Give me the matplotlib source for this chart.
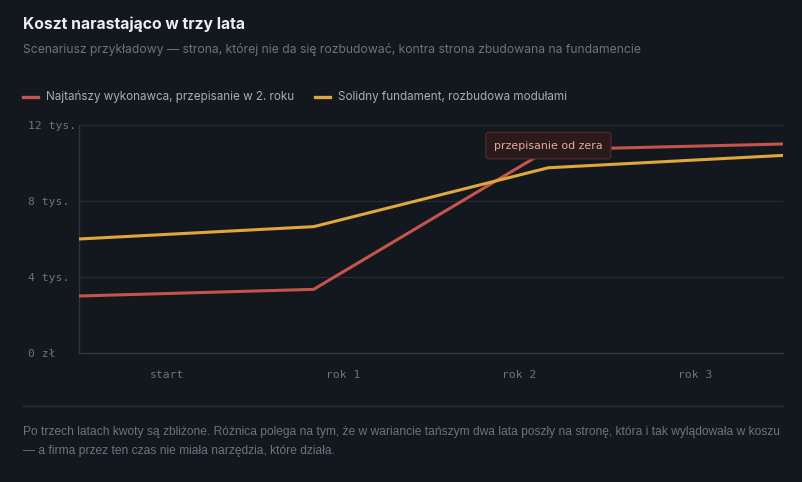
import matplotlib
matplotlib.use("Agg")
import matplotlib.pyplot as plt

# --- data -------------------------------------------------------------------
steps = [0, 1, 2, 3]
tick_labels = ["start", "rok 1", "rok 2", "rok 3"]
cheap = [3000, 3350, 10700, 11000]      # Najtańszy wykonawca
solid = [6000, 6650, 9750, 10400]       # Solidny fundament
y_ticks = [0, 4000, 8000, 12000]
y_labels = ["0 zł", "4 tys.", "8 tys.", "12 tys."]

BG = "#13171e"
RED = "#c4554d"
YEL = "#e0a83c"
GRID = "#262b33"
MUTED = "#6c737d"

fig = plt.figure(figsize=(8.03, 4.82), dpi=100, facecolor=BG)
W, H = 803, 482

def fx(px):
    return px / W

def fy(py):
    return 1 - py / H

ax = fig.add_axes([fx(79), fy(353), fx(783) - fx(79), fy(125) - fy(353)])
ax.set_facecolor(BG)

ax.plot(steps, cheap, color=RED, lw=2.2, solid_capstyle="butt", zorder=3)
ax.plot(steps, solid, color=YEL, lw=2.2, solid_capstyle="butt", zorder=3)

ax.set_xlim(0, 3)
ax.set_ylim(0, 12000)
ax.set_yticks(y_ticks)
ax.set_yticklabels(y_labels, family="DejaVu Sans Mono", fontsize=8.2, color=MUTED)
for lab in ax.get_yticklabels():
    lab.set_horizontalalignment("left")
ax.tick_params(axis="y", length=0, pad=36.5)   # pad in points -> labels start at x=28px

# category bands: labels sit at the middle of each quarter
n = len(tick_labels)
ax.set_xticks([(i + 0.5) * 3 / n for i in range(n)])
ax.set_xticklabels(tick_labels, family="DejaVu Sans Mono", fontsize=8.2, color=MUTED)
ax.tick_params(axis="x", length=0, pad=12)

ax.grid(axis="y", color=GRID, lw=1)
ax.set_axisbelow(True)
for s in ["top", "right"]:
    ax.spines[s].set_visible(False)
for s in ["left", "bottom"]:
    ax.spines[s].set_color("#2e343d")
    ax.spines[s].set_linewidth(1)

ax.annotate("przepisanie od zera", (steps[2], cheap[2]), xytext=(0, 3),
            textcoords="offset points", ha="center", va="center",
            fontsize=7.9, color="#e2aaa3", zorder=5,
            bbox=dict(boxstyle="round,pad=0.75,rounding_size=0.25",
                      fc="#2b1a1c", ec="#4b2b2d", lw=0.9))

# --- texts ------------------------------------------------------------------
fig.text(fx(23), fy(24), "Koszt narastająco w trzy lata", fontsize=11.3,
         fontweight="bold", color="#eceef1", va="center", family="Inter")
fig.text(fx(23), fy(50),
         "Scenariusz przykładowy — strona, której nie da się rozbudować, "
         "kontra strona zbudowana na fundamencie",
         fontsize=8.75, color=MUTED, va="center", family="Inter")

# legend
for x0, col, txt in [(23, RED, "Najtańszy wykonawca, przepisanie w 2. roku"),
                     (315, YEL, "Solidny fundament, rozbudowa modułami")]:
    fig.add_artist(plt.Line2D([fx(x0), fx(x0 + 15)], [fy(97), fy(97)],
                              color=col, lw=2.4))
    fig.text(fx(x0 + 23), fy(97), txt, fontsize=8.4, color="#a8aeb7",
             va="center", family="Inter")

fig.add_artist(plt.Line2D([fx(23), fx(783)], [fy(406), fy(406)],
                          color="#282e36", lw=1))

footer1 = ("Po trzech latach kwoty są zbliżone. Różnica polega na tym, że w wariancie "
           "tańszym dwa lata poszły na stronę, która i tak wylądowała w koszu")
footer2 = "— a firma przez ten czas nie miała narzędzia, które działa."
t1 = fig.text(fx(23), fy(432), footer1, fontsize=8.3, color=MUTED, va="center",
              family="Liberation Sans")
t2 = fig.text(fx(23), fy(451), footer2, fontsize=8.3, color=MUTED, va="center",
              family="Liberation Sans")

# shrink the footer so the first line ends near x=776px like the original
r = fig.canvas.get_renderer()
w = t1.get_window_extent(r).width
size = 8.3 * 753 / w
t1.set_fontsize(size)
t2.set_fontsize(size)

fig.savefig("out.png", dpi=100, facecolor=BG)
